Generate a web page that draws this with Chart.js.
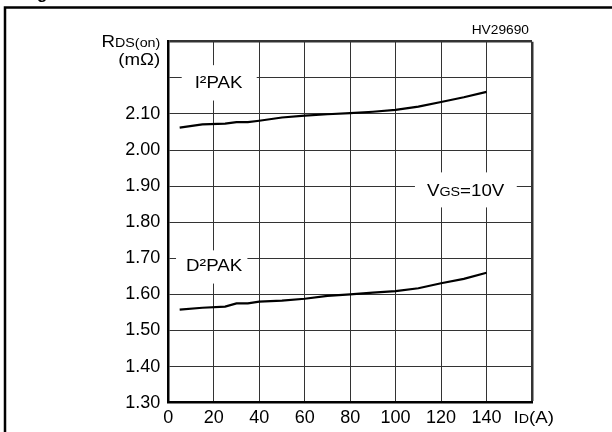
<!DOCTYPE html>
<html>
<head>
<meta charset="utf-8">
<script src="https://cdn.jsdelivr.net/npm/chart.js@4/dist/chart.umd.min.js"></script>
<style>
html,body{margin:0;padding:0;background:#fff;}
#wrap{width:612px;height:432px;position:relative;}
</style>
</head>
<body>
<div id="wrap"><canvas id="c" width="612" height="432"></canvas></div>
<script>
// ---- data ----
const currentA = [5, 15, 25, 30, 35, 40, 50, 60, 70, 80, 90, 100, 110, 120, 130, 140];
const rdsI2PAK = [2.062, 2.071, 2.073, 2.077, 2.077, 2.081, 2.09, 2.095, 2.099, 2.102, 2.106, 2.111, 2.12, 2.133, 2.146, 2.161];
const rdsD2PAK = [1.558, 1.563, 1.566, 1.575, 1.575, 1.58, 1.583, 1.588, 1.596, 1.60, 1.605, 1.609, 1.617, 1.631, 1.643, 1.66];
const seriesNames = ["I²PAK", "D²PAK"];
const xTickValues = [0, 20, 40, 60, 80, 100, 120, 140, 160];
const yTickValues = [1.3, 1.4, 1.5, 1.6, 1.7, 1.8, 1.9, 2.0, 2.1, 2.2, 2.3];
const xHiddenTicks = [160];
const yHiddenTicks = [2.2, 2.3];
const figureId = "HV29690";

const FONT = "'Liberation Sans', Arial, Helvetica, sans-serif";
const STRETCH = 1.1;

function toPts(xs, ys){ return xs.map((x,i)=>({x:x, y:ys[i]})); }

// draw text runs of different sizes; anchor 'left' or 'right'
function drawRuns(ctx, x, baseline, runs, anchor){
  ctx.save();
  let total = 0;
  runs.forEach(r=>{ ctx.font = r.size + "px " + FONT; r.w = ctx.measureText(r.t).width * STRETCH; total += r.w; });
  let cx = anchor === 'right' ? x - total : x;
  ctx.fillStyle = '#000';
  ctx.textBaseline = 'alphabetic';
  ctx.textAlign = 'left';
  runs.forEach(r=>{
    ctx.font = r.size + "px " + FONT;
    ctx.save();
    ctx.translate(cx, baseline + (r.dy||0));
    ctx.scale(STRETCH, 1);
    ctx.fillText(r.t, 0, 0);
    ctx.restore();
    cx += r.w;
  });
  ctx.restore();
}

const near = (a,b)=>Math.abs(a-b)<1e-6;

const annotPlugin = {
  id: 'annot',
  beforeDatasetsDraw(chart){
    const ctx = chart.ctx;
    const xs = chart.scales.x, ys = chart.scales.y;
    // label boxes (white) masking grid, positioned in data coordinates
    const boxes = [
      {x0: 5.9, x1: 38.9, y0: 2.235, y1: 2.137, runs:[{t:'I',size:17},{t:'²',size:18},{t:'PAK',size:17}], tx: 11.6, ty: 2.172},
      {x0: 108.5, x1: 153.3, y0: 1.938, y1: 1.841, runs:[{t:'V',size:17},{t:'GS',size:13},{t:'=10V',size:17}], tx: 113.8, ty: 1.873},
      {x0: 3.4, x1: 34.8, y0: 1.722, y1: 1.630, runs:[{t:'D',size:17},{t:'²',size:18},{t:'PAK',size:17}], tx: 7.8, ty: 1.665}
    ];
    boxes.forEach(b=>{
      const px0 = xs.getPixelForValue(b.x0), px1 = xs.getPixelForValue(b.x1);
      const py0 = ys.getPixelForValue(b.y0), py1 = ys.getPixelForValue(b.y1);
      ctx.save();
      ctx.fillStyle = '#fff';
      ctx.fillRect(px0, py0, px1-px0, py1-py0);
      ctx.restore();
      drawRuns(ctx, xs.getPixelForValue(b.tx), ys.getPixelForValue(b.ty), b.runs, 'left');
    });
  },
  afterDraw(chart){
    const ctx = chart.ctx;
    const a = chart.chartArea;
    // axis titles
    drawRuns(ctx, a.left - 8, a.top + 5, [{t:'R',size:17},{t:'DS(on)',size:13}], 'right');
    drawRuns(ctx, a.left - 8, a.top + 23.5, [{t:'(mΩ)',size:17}], 'right');
    drawRuns(ctx, a.right - 18.5, a.bottom + 20.5, [{t:'I',size:17},{t:'D',size:13},{t:'(A)',size:17}], 'left');
    drawRuns(ctx, a.right - 3, a.top - 8, [{t:figureId,size:12.5}], 'right');
    // outer frame
    ctx.save();
    ctx.strokeStyle = '#000';
    ctx.lineWidth = 2.5;
    ctx.beginPath();
    ctx.moveTo(5, 440);
    ctx.lineTo(5, 7.5);
    ctx.lineTo(620, 7.5);
    ctx.stroke();
    // clipped descender of the figure caption above the frame
    ctx.font = "bold 17px " + FONT;
    ctx.fillStyle = '#000';
    ctx.fillText('g', 37, -1);
    ctx.restore();
  }
};

new Chart(document.getElementById('c'), {
  type: 'scatter',
  data: {
    datasets: [
      {label: seriesNames[0], data: toPts(currentA, rdsI2PAK), showLine: true, borderColor: '#000', borderWidth: 2.2, pointRadius: 0, tension: 0, fill: false},
      {label: seriesNames[1], data: toPts(currentA, rdsD2PAK), showLine: true, borderColor: '#000', borderWidth: 2.2, pointRadius: 0, tension: 0, fill: false}
    ]
  },
  options: {
    responsive: false,
    animation: false,
    devicePixelRatio: 1,
    layout: {padding: {left: 0, right: 80, top: 41.7, bottom: 0}},
    plugins: {legend: {display: false}, tooltip: {enabled: false}},
    scales: {
      x: {
        type: 'linear', min: 0, max: 160,
        afterBuildTicks(s){ s.ticks = xTickValues.map(v=>({value:v})); },
        afterFit(s){ s.height = 29.3; },
        ticks: {
          color: '#000', font: {family: FONT, size: 18}, padding: 5, maxRotation: 0,
          callback: v => xHiddenTicks.some(h=>near(h,v)) ? '' : String(v)
        },
        grid: {
          color: '#333', drawTicks: false,
          lineWidth: c => (c.tick && near(c.tick.value, 160)) ? 2.5 : 1
        },
        border: {color: '#000', width: 2.5}
      },
      y: {
        type: 'linear', min: 1.3, max: 2.3,
        afterBuildTicks(s){ s.ticks = yTickValues.map(v=>({value:v})); },
        afterFit(s){ s.width = 168.3; },
        ticks: {
          color: '#000', font: {family: FONT, size: 18}, padding: 8,
          callback: v => yHiddenTicks.some(h=>near(h,v)) ? '' : Number(v).toFixed(2)
        },
        grid: {
          color: '#333', drawTicks: false,
          lineWidth: c => (c.tick && near(c.tick.value, 2.3)) ? 2.5 : 1
        },
        border: {color: '#000', width: 2.5}
      }
    }
  },
  plugins: [annotPlugin]
});
</script>
</body>
</html>
